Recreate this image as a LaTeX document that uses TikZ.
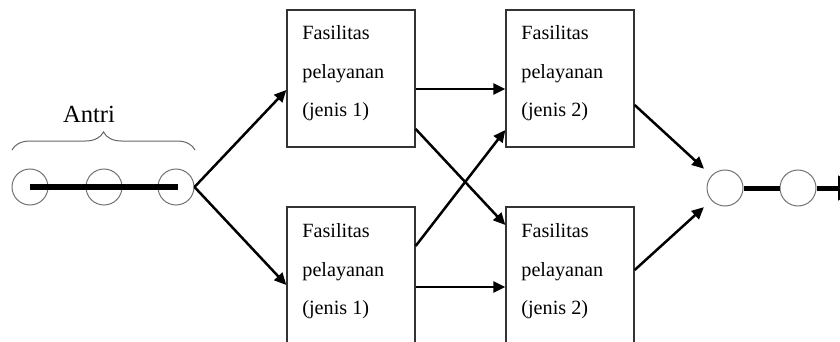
\documentclass[tikz,border=0pt]{standalone}
\usepackage{fontspec}
\setmainfont{Liberation Serif}
\usetikzlibrary{arrows.meta,decorations.pathreplacing,calc}
\begin{document}
\begin{tikzpicture}[x=0.5pt,y=-0.5pt,
  box/.style={draw=black!80,line width=0.65pt,minimum width=64pt,minimum height=68.5pt,inner sep=0pt},
  boxlow/.style={box,minimum height=71.5pt},
  lbl/.style={anchor=base west,inner sep=0pt,font=\fontsize{10.1pt}{12pt}\selectfont},
  que/.style={circle,draw=black!55,line width=0.5pt,minimum size=18pt,inner sep=0pt,fill=white},
  arr/.style={line width=1.25pt,-{Triangle[length=6pt,width=5.5pt]}},
  bigbar/.style={line width=3.3pt},
  smallbar/.style={line width=2.5pt}]
\useasboundingbox (0,0) rectangle (840,342);
\clip (0,0) rectangle (840,342);

% queue
\node[que] (c1) at (30,187) {};
\node[que] (c2) at (104,187) {};
\node[que] (c3) at (176,187) {};
\draw[bigbar] (c1.center) -- ([xshift=1pt]c3.center);
\draw[decorate,decoration={brace,amplitude=9pt},draw=black!60,line width=0.5pt] (12,150) -- (195,150);
\node[anchor=base,inner sep=0pt,font=\fontsize{12.3pt}{14pt}\selectfont] (antri) at (89,123) {Antri};

% boxes
\node[box] (b1) at (351,78.5) {};
\node[box] (b2) at (570,78.5) {};
\node[boxlow] (b3) at (351,278.5) {};
\node[boxlow] (b4) at (570,278.5) {};

\node[lbl] (b1a) at (302,40) {Fasilitas};
\node[lbl] (b1b) at (302,79) {pelayanan};
\node[lbl] (b1c) at (302,117) {(jenis 1)};
\node[lbl] (b2a) at (521,40) {Fasilitas};
\node[lbl] (b2b) at (521,79) {pelayanan};
\node[lbl] (b2c) at (521,117) {(jenis 2)};
\node[lbl] (b3a) at (302,237) {Fasilitas};
\node[lbl] (b3b) at (302,276) {pelayanan};
\node[lbl] (b3c) at (302,314) {(jenis 1)};
\node[lbl] (b4a) at (521,237) {Fasilitas};
\node[lbl] (b4b) at (521,276) {pelayanan};
\node[lbl] (b4c) at (521,314) {(jenis 2)};

% departure queue
\node[que] (r1) at (725,188) {};
\node[que] (r2) at (798,188) {};
\coordinate (out) at (858,188);
\draw[smallbar] (r1.east) -- (r2.west);
\draw[smallbar,-{Triangle[length=10pt,width=12pt]}] (r2.east) -- (out);

% arrows
\draw[arr] (c3.east) -- ([yshift=-5.75pt]b1.west);
\draw[arr] (c3.east) -- ([yshift=-3.25pt]b3.west);
\draw[arr] ([yshift=-5.25pt]b1.east) -- ([yshift=-5.25pt]b2.west);
\draw[arr] ([yshift=-25.25pt]b1.east) -- ([yshift=26.75pt]b4.west);
\draw[arr] ([yshift=16.25pt]b3.east) -- ([yshift=-25.75pt]b2.west);
\draw[arr] ([yshift=-4.25pt]b3.east) -- ([yshift=-4.25pt]b4.west);
\draw[arr,shorten >=5pt] ([yshift=-13.25pt]b2.east) -- (r1);
\draw[arr,shorten >=5pt] ([yshift=4.25pt]b4.east) -- (r1);
\end{tikzpicture}
\end{document}
